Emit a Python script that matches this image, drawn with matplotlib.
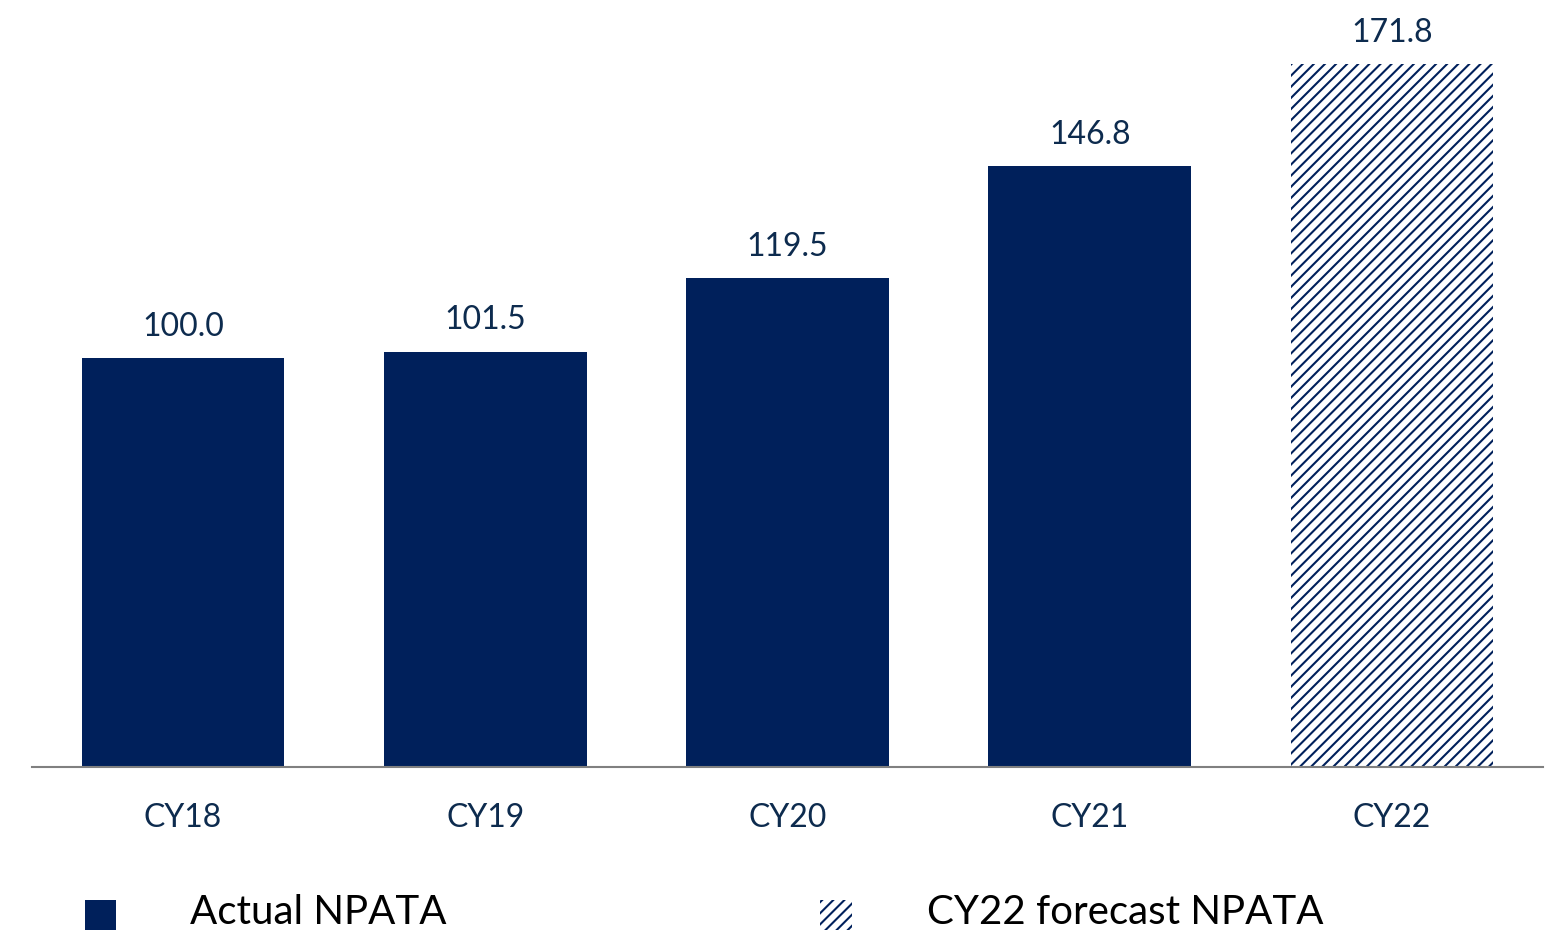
import matplotlib
matplotlib.use("Agg")
import matplotlib.pyplot as plt
from matplotlib.patches import Rectangle

# data
years = ["CY18", "CY19", "CY20", "CY21", "CY22"]
npata = [100.0, 101.5, 119.5, 146.8, 171.8]
forecast = [False, False, False, False, True]

navy = "#00205b"
text_col = "#0d2b4e"

plt.rcParams["font.family"] = ["Lato", "DejaVu Sans"]
plt.rcParams["hatch.linewidth"] = 1.5

fig = plt.figure(figsize=(15.49, 9.32), dpi=100)
ax = fig.add_axes([32 / 1549, 165 / 932, 1511 / 1549, 767 / 932])

x = list(range(len(years)))
for i, v in enumerate(npata):
    if forecast[i]:
        ax.bar(i, v, width=0.67, color="white", edgecolor=navy, hatch="///", linewidth=0)
    else:
        ax.bar(i, v, width=0.67, color=navy, linewidth=0)
    ax.text(i, v + 4, f"{v:.1f}", ha="center", va="bottom", fontsize=23, color=text_col)

ax.set_xlim(-0.5, 4.5)
ax.set_ylim(0, 187.5)
ax.set_xticks(x)
ax.set_xticklabels(years, fontsize=23, color=text_col)
ax.tick_params(axis="x", length=0, pad=26)
ax.set_yticks([])
for s in ["top", "right", "left"]:
    ax.spines[s].set_visible(False)
ax.spines["bottom"].set_color("#808080")
ax.spines["bottom"].set_linewidth(1.5)

# legend drawn by hand
fig.patches.append(Rectangle((85 / 1549, 2 / 932), 31 / 1549, 30 / 932,
                             transform=fig.transFigure, facecolor=navy, linewidth=0))
fig.patches.append(Rectangle((820 / 1549, 2 / 932), 32 / 1549, 30 / 932,
                             transform=fig.transFigure, facecolor="white",
                             edgecolor=navy, hatch="///", linewidth=0))
fig.text(190 / 1549, 19 / 932, "Actual NPATA", fontsize=29, color="black", va="center")
fig.text(927 / 1549, 19 / 932, "CY22 forecast NPATA", fontsize=29, color="black", va="center")

fig.savefig("out.png", dpi=100)
